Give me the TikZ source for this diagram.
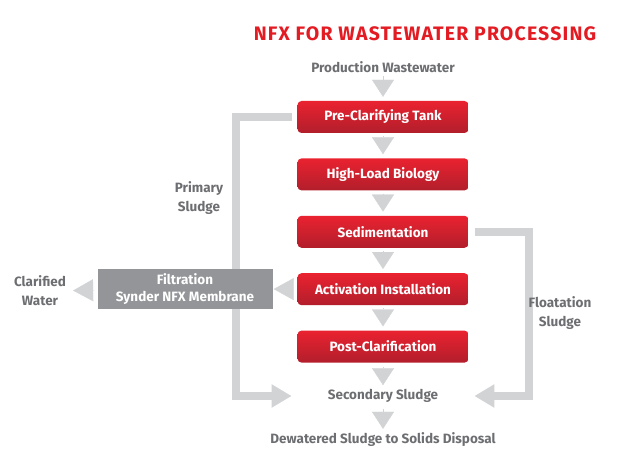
\documentclass[tikz,border=0pt]{standalone}
\usepackage{fontspec}
\setmainfont{Fira Sans}
\newfontfamily\titlefont[LetterSpace=6]{Fira Sans}
\usepackage{tikz}
\usetikzlibrary{arrows.meta, positioning, backgrounds}

\definecolor{NfxRed}{HTML}{E31B23}
\definecolor{StageTop}{HTML}{EA2230}
\definecolor{StageBot}{HTML}{B21E2B}
\definecolor{LabelGray}{HTML}{6D6E71}
\definecolor{PipeGray}{HTML}{D1D3D4}
\definecolor{FilterGray}{HTML}{939598}

\begin{document}
\begin{tikzpicture}[
  x=1pt, y=-1pt,
  stage/.style={rounded corners=4pt, top color=StageTop, bottom color=StageBot,
    minimum width=171pt, minimum height=32pt, inner sep=0pt, text=white,
    font=\bfseries\fontsize{13.5}{15}\selectfont},
  label/.style={text=LabelGray, inner sep=0pt, align=center,
    font=\bfseries\fontsize{13.5}{19}\selectfont},
  drop/.style={draw=PipeGray, line width=0.3pt, -{Triangle[length=17pt, width=22pt]},
    shorten <=3pt, shorten >=4pt},
  pipe/.style={draw=PipeGray, line width=8pt, -{Triangle[length=20pt, width=22pt]}},
]
\useasboundingbox (0,0) rectangle (623,462);

% --- Title and inlet ---
\node[font=\titlefont\bfseries\fontsize{19.5}{22}\selectfont, text=NfxRed] (title) at (425,34) {NFX FOR WASTEWATER PROCESSING};
\node[label] (inlet) at (383,67) {Production Wastewater};

% --- Treatment stages ---
\node[stage] (preclar) at (383,117) {Pre-Clarifying Tank};
\node[stage, below=25pt of preclar] (highload) {High-Load Biology};
\node[stage, below=25pt of highload] (sedim) {Sedimentation};
\node[stage, below=25pt of sedim] (activ) {Activation Installation};
\node[stage, below=25pt of activ] (postclar) {Post-Clarification};

% --- Sludge outlets ---
\node[label] (secsludge) at (383,396) {Secondary Sludge};
\node[label] (dewater) at (383,440) {Dewatered Sludge to Solids Disposal};

% --- Membrane filtration ---
\node[fill=FilterGray, minimum width=175pt, minimum height=40pt, inner sep=0pt,
  text=white, align=center, font=\bfseries\fontsize{13.5}{17}\selectfont] (membrane) at (185,289)
  {Filtration\\Synder NFX Membrane};
\node[label] (clarwater) at (40,291) {Clarified\\Water};

% --- Side labels ---
\node[label] (primsludge) at (199,198) {Primary\\Sludge};
\node[label] (flotsludge) at (560,313) {Floatation\\Sludge};

% --- Bends of the sludge pipes ---
\coordinate (leftbend) at (236,396);
\coordinate (rightbend) at (529,396);

% --- Downward flow ---
\draw[drop] (inlet) -- (preclar);
\draw[drop] (preclar) -- (highload);
\draw[drop] (highload) -- (sedim);
\draw[drop] (sedim) -- (activ);
\draw[drop] (activ) -- (postclar);
\draw[drop, shorten <=4pt] (postclar) -- (secsludge);
\draw[drop, shorten <=6pt] (secsludge) -- (dewater);

% --- Sideways flow ---
\draw[drop, -{Triangle[length=20pt, width=22pt]}, shorten <=4pt, shorten >=1pt] (activ) -- (membrane);
\draw[drop, -{Triangle[length=20pt, width=22pt]}, shorten >=7pt] (membrane) -- (clarwater);

% --- Sludge pipes ---
\begin{scope}[on background layer]
  \draw[pipe, shorten >=36pt] ([xshift=-5pt]preclar.west) -| (leftbend) -- (secsludge);
  \draw[pipe, shorten >=36pt] ([xshift=6pt]sedim.east) -| (rightbend) -- (secsludge);
\end{scope}

\end{tikzpicture}
\end{document}
